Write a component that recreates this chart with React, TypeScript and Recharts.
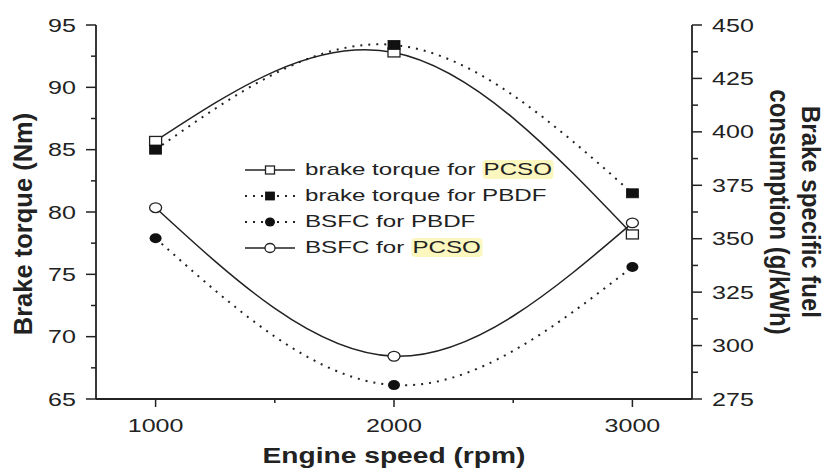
import React from 'react';
import { ComposedChart, Line, XAxis, YAxis, Legend } from 'recharts';

const speeds = [1000, 2000, 3000];
const torquePCSO = [85.7, 92.8, 78.2];
const torquePBDF = [85.0, 93.4, 81.5];
const bsfcPBDF = [350.2, 281.5, 336.8];
const bsfcPCSO = [364.5, 295.0, 357.4];

const speedTicks = [1000, 1500, 2000, 2500, 3000];
const torqueTicks = [65, 67.5, 70, 72.5, 75, 77.5, 80, 82.5, 85, 87.5, 90, 92.5, 95];
const bsfcTicks = [275, 287.5, 300, 312.5, 325, 337.5, 350, 362.5, 375, 387.5, 400, 412.5, 425, 437.5, 450];

const legendNames = ['brake torque for PCSO', 'brake torque for PBDF', 'BSFC for PBDF', 'BSFC for PCSO'];

const data = speeds.map((speed, i) => ({
  speed,
  tPCSO: torquePCSO[i],
  tPBDF: torquePBDF[i],
  bPBDF: bsfcPBDF[i],
  bPCSO: bsfcPCSO[i],
}));

const FONT = '"Liberation Sans", Arial, Helvetica, sans-serif';
const INK = '#222';
const TS = 10; // tickSize given to the axes, used to get back to the axis line
const SX = 1.32; // the source figure is stretched sideways
const DOTS = '2 6';

const isMajor = (v: number, step: number) => Math.abs(v / step - Math.round(v / step)) < 1e-6;

// ---- ticks ----
const BottomTick = (props: any) => {
  const { x, y, payload } = props;
  const ay = y - TS;
  const major = isMajor(payload.value, 1000);
  return (
    <g>
      <line x1={x} x2={x} y1={ay} y2={ay + (major ? 8 : 4)} stroke={INK} strokeWidth={1.5} />
      {major && (
        <text transform={`translate(${x},${ay + 33}) scale(${SX},1)`} textAnchor="middle" fontSize={19} fill={INK} fontFamily={FONT}>
          {payload.value}
        </text>
      )}
    </g>
  );
};

const TopTick = (props: any) => {
  const { x, y, payload } = props;
  const ay = y + TS;
  const major = isMajor(payload.value, 1000);
  return <line x1={x} x2={x} y1={ay} y2={ay - (major ? 4 : 3)} stroke={INK} strokeWidth={1.2} />;
};

const LeftTick = (props: any) => {
  const { x, y, payload } = props;
  const ax = x + TS;
  const major = isMajor(payload.value, 5);
  return (
    <g>
      <line x1={ax - (major ? 10 : 5)} x2={ax} y1={y} y2={y} stroke={INK} strokeWidth={1.5} />
      {major && (
        <text transform={`translate(${ax - 20},${y + 6.5}) scale(${SX},1)`} textAnchor="end" fontSize={19} fill={INK} fontFamily={FONT}>
          {payload.value}
        </text>
      )}
    </g>
  );
};

const RightTick = (props: any) => {
  const { x, y, payload } = props;
  const ax = x - TS;
  const major = isMajor(payload.value, 25);
  return (
    <g>
      <line x1={ax} x2={ax + (major ? 10 : 6)} y1={y} y2={y} stroke={INK} strokeWidth={1.5} />
      {major && (
        <text transform={`translate(${ax + 20},${y + 6.5}) scale(${SX},1)`} textAnchor="start" fontSize={19} fill={INK} fontFamily={FONT}>
          {payload.value}
        </text>
      )}
    </g>
  );
};

// ---- markers ----
const OpenSquare = ({ cx, cy, w = 12, h = 9 }: any) => (
  <rect x={cx - w / 2} y={cy - h / 2} width={w} height={h} fill="#fff" stroke={INK} strokeWidth={1.3} />
);
const FilledSquare = ({ cx, cy, w = 12, h = 9 }: any) => (
  <rect x={cx - w / 2} y={cy - h / 2} width={w} height={h} fill="#111" stroke="#111" strokeWidth={0.8} />
);
const FilledCircle = ({ cx, cy, rx = 6, ry = 5 }: any) => <ellipse cx={cx} cy={cy} rx={rx} ry={ry} fill="#111" />;
const OpenCircle = ({ cx, cy, rx = 6, ry = 4.8 }: any) => (
  <ellipse cx={cx} cy={cy} rx={rx} ry={ry} fill="#fff" stroke={INK} strokeWidth={1.3} />
);

const markers = [OpenSquare, FilledSquare, FilledCircle, OpenCircle];
const dotted = [false, true, true, false];

const dotRenderer = (i: number) => (p: any) => {
  const M = markers[i];
  return <M key={`m${i}-${p.index}`} cx={p.cx} cy={p.cy} />;
};

// ---- legend ----
const withHighlight = (name: string) => {
  const parts = name.split('PCSO');
  if (parts.length === 1) return name;
  return (
    <>
      {parts[0]}
      <span style={{ background: '#fbf7bf', borderRadius: 3, padding: '0 1px' }}>PCSO</span>
      {parts[1]}
    </>
  );
};

const renderLegend = () => (
  <div style={{ fontFamily: FONT, fontSize: 17, color: INK }}>
    {legendNames.map((name, i) => {
      const M = markers[i];
      return (
        <div key={name} style={{ display: 'flex', alignItems: 'center', height: 26 }}>
          <svg width={54} height={26} style={{ flex: 'none' }}>
            <line x1={2} x2={52} y1={13} y2={13} stroke={INK} strokeWidth={dotted[i] ? 2 : 1.5} strokeDasharray={dotted[i] ? DOTS : undefined} />
            {i < 2 ? <M cx={27} cy={13} w={9} h={8} /> : <M cx={27} cy={13} rx={5} ry={4.5} />}
          </svg>
          <span style={{ display: 'inline-block', marginLeft: 8, whiteSpace: 'nowrap', transform: 'scaleX(1.42)', transformOrigin: 'left center' }}>
            {withHighlight(name)}
          </span>
        </div>
      );
    })}
  </div>
);

// ---- axis titles ----
const XTitle = (p: any) => {
  const vb = p.viewBox;
  return (
    <text transform={`translate(${vb.x + vb.width / 2},${vb.y + 64}) scale(1.31,1)`} textAnchor="middle" fontSize={21.5} fontWeight="bold" fill={INK} fontFamily={FONT}>
      Engine speed (rpm)
    </text>
  );
};

const LeftTitle = (p: any) => {
  const vb = p.viewBox;
  return (
    <text transform={`translate(31.5,${vb.y + vb.height / 2 + 12}) rotate(-90)`} textAnchor="middle" fontSize={25.5} fontWeight="bold" fill={INK} fontFamily={FONT}>
      Brake torque (Nm)
    </text>
  );
};

const RightTitle = (p: any) => {
  const vb = p.viewBox;
  const cy = vb.y + vb.height / 2;
  return (
    <g>
      <text transform={`translate(802,${cy}) rotate(90) scale(1,1.1)`} textAnchor="middle" fontSize={24} fontWeight="bold" fill={INK} fontFamily={FONT}>
        Brake specific fuel
      </text>
      <text transform={`translate(770,${cy}) rotate(90) scale(1,1.15)`} textAnchor="middle" fontSize={24} fontWeight="bold" fill={INK} fontFamily={FONT}>
        consumption (g/kWh)
      </text>
    </g>
  );
};

const axisLine = { stroke: INK, strokeWidth: 1.8 };

export default function App() {
  return (
    <div style={{ position: 'absolute', left: 0, top: 0, background: '#fff' }}>
      <ComposedChart width={827} height={468} data={data} margin={{ top: 25, right: 0, bottom: 0, left: 0 }}>
        <XAxis
          xAxisId="bottom"
          dataKey="speed"
          type="number"
          domain={[750, 3250]}
          ticks={speedTicks}
          interval={0}
          height={69}
          tickSize={TS}
          tickMargin={0}
          tickLine={false}
          axisLine={axisLine}
          tick={<BottomTick />}
          label={{ content: XTitle }}
        />
        <XAxis
          xAxisId="top"
          orientation="top"
          dataKey="speed"
          type="number"
          domain={[750, 3250]}
          ticks={speedTicks}
          interval={0}
          height={0}
          tickSize={TS}
          tickMargin={0}
          tickLine={false}
          axisLine={{ stroke: INK, strokeWidth: 1.5 }}
          tick={<TopTick />}
        />
        <YAxis
          yAxisId="left"
          orientation="left"
          type="number"
          domain={[65, 95]}
          ticks={torqueTicks}
          interval={0}
          width={96}
          tickSize={TS}
          tickMargin={0}
          tickLine={false}
          axisLine={axisLine}
          tick={<LeftTick />}
          label={{ content: LeftTitle }}
        />
        <YAxis
          yAxisId="right"
          orientation="right"
          type="number"
          domain={[275, 450]}
          ticks={bsfcTicks}
          interval={0}
          width={135}
          tickSize={TS}
          tickMargin={0}
          tickLine={false}
          axisLine={axisLine}
          tick={<RightTick />}
          label={{ content: RightTitle }}
        />
        <Legend
          layout="vertical"
          align="center"
          verticalAlign="middle"
          content={renderLegend}
          wrapperStyle={{ left: 243, top: 157, width: 'auto', height: 'auto' }}
        />
        <Line xAxisId="bottom" yAxisId="left" dataKey="tPCSO" type="natural" stroke={INK} strokeWidth={1.5} dot={dotRenderer(0)} activeDot={false} isAnimationActive={false} />
        <Line xAxisId="bottom" yAxisId="left" dataKey="tPBDF" type="natural" stroke={INK} strokeWidth={2} strokeDasharray={DOTS} dot={dotRenderer(1)} activeDot={false} isAnimationActive={false} />
        <Line xAxisId="bottom" yAxisId="right" dataKey="bPBDF" type="natural" stroke={INK} strokeWidth={2} strokeDasharray={DOTS} dot={dotRenderer(2)} activeDot={false} isAnimationActive={false} />
        <Line xAxisId="bottom" yAxisId="right" dataKey="bPCSO" type="natural" stroke={INK} strokeWidth={1.5} dot={dotRenderer(3)} activeDot={false} isAnimationActive={false} />
      </ComposedChart>
    </div>
  );
}
